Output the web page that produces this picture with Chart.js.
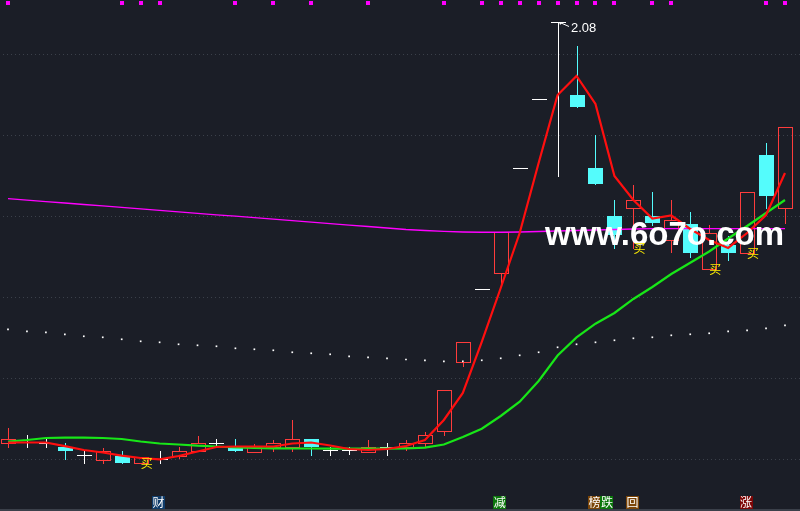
<!DOCTYPE html>
<html>
<head>
<meta charset="utf-8">
<script src="https://cdn.jsdelivr.net/npm/chart.js@4/dist/chart.umd.min.js"></script>
<style>
  html, body { margin: 0; padding: 0; background: #1b1e27; }
  #wrap { width: 800px; height: 511px; }
  canvas { display: block; }
</style>
</head>
<body>
<div id="wrap"><canvas id="kline" width="800" height="511"></canvas></div>
<script>
// Daily bars, oldest first
const opens  = [1.0388, 1.0430, 1.0388, 1.0304, 1.0099, 0.9975, 1.0081, 0.9894, 1.0000, 1.0081,
                1.0198, 1.0395, 1.0284, 1.0180, 1.0304, 1.0304, 1.0494, 1.0210, 1.0210, 1.0180,
                1.0284, 1.0304, 1.0388, 1.0691, 1.2388, 1.4190, 1.4585, 1.7178, 1.8889, 2.0800,
                1.8988, 1.7193, 1.6000, 1.6190, 1.6000, 1.5407, 1.5795, 1.4684, 1.5284, 1.5079,
                1.7506, 1.6190];
const highs  = [1.0758, 1.0593, 1.0506, 1.0400, 1.0222, 1.0264, 1.0198, 1.0042, 1.0205, 1.0296,
                1.0568, 1.0486, 1.0494, 1.0370, 1.0469, 1.0963, 1.0494, 1.0296, 1.0296, 1.0469,
                1.0395, 1.0481, 1.0667, 1.1704, 1.2881, 1.4190, 1.5598, 1.7178, 1.8889, 2.0800,
                2.0198, 1.8000, 1.6395, 1.6765, 1.6593, 1.6383, 1.6099, 1.5778, 1.5494, 1.6585,
                1.7795, 1.8190];
const lows   = [1.0289, 1.0304, 1.0296, 0.9988, 0.9909, 0.9909, 0.9909, 0.9894, 0.9909, 1.0025,
                1.0198, 1.0304, 1.0198, 1.0180, 1.0205, 1.0205, 1.0099, 1.0099, 1.0116, 1.0180,
                1.0099, 1.0222, 1.0304, 1.0593, 1.2304, 1.4190, 1.4338, 1.7178, 1.8889, 1.6995,
                1.8699, 1.6798, 1.5202, 1.5210, 1.5778, 1.5099, 1.4995, 1.4684, 1.4914, 1.5079,
                1.6190, 1.5820];
const closes = [1.0486, 1.0430, 1.0388, 1.0198, 1.0099, 1.0190, 0.9909, 1.0042, 1.0000, 1.0198,
                1.0388, 1.0395, 1.0198, 1.0284, 1.0395, 1.0494, 1.0304, 1.0210, 1.0210, 1.0296,
                1.0284, 1.0388, 1.0593, 1.1704, 1.2881, 1.4190, 1.5598, 1.7178, 1.8889, 2.0800,
                1.8699, 1.6798, 1.5531, 1.6395, 1.5820, 1.5901, 1.5094, 1.5573, 1.5094, 1.6585,
                1.6494, 1.8190];

// Moving averages and indicator values per bar
const maShort = [1.0407, 1.0407, 1.0407, 1.0316, 1.0222, 1.0160, 1.0084, 1.0025, 0.9990, 1.0074,
                 1.0185, 1.0296, 1.0309, 1.0309, 1.0309, 1.0383, 1.0407, 1.0333, 1.0247, 1.0222,
                 1.0247, 1.0321, 1.0469, 1.0963, 1.1630, 1.2889, 1.4222, 1.5580, 1.7309, 1.8988,
                 1.9457, 1.8765, 1.6988, 1.6395, 1.5938, 1.6012, 1.5679, 1.5407, 1.5210, 1.5580,
                 1.6025, 1.7062];
const maMid   = [1.0432, 1.0469, 1.0519, 1.0526, 1.0526, 1.0519, 1.0494, 1.0432, 1.0383, 1.0358,
                 1.0328, 1.0309, 1.0284, 1.0272, 1.0264, 1.0259, 1.0259, 1.0254, 1.0254, 1.0254,
                 1.0254, 1.0259, 1.0279, 1.0358, 1.0543, 1.0748, 1.1062, 1.1415, 1.1926, 1.2556,
                 1.3002, 1.3341, 1.3605, 1.3951, 1.4247, 1.4568, 1.4847, 1.5123, 1.5444, 1.5753,
                 1.6074, 1.6395];
const maLong  = [1.6430, 1.6393, 1.6357, 1.6321, 1.6284, 1.6248, 1.6212, 1.6175, 1.6138, 1.6104,
                 1.6067, 1.6030, 1.5995, 1.5958, 1.5921, 1.5885, 1.5849, 1.5812, 1.5775, 1.5741,
                 1.5704, 1.5667, 1.5642, 1.5622, 1.5605, 1.5598, 1.5598, 1.5605, 1.5617, 1.5630,
                 1.5642, 1.5654, 1.5667, 1.5679, 1.5686, 1.5686, 1.5686, 1.5686, 1.5686, 1.5686,
                 1.5686, 1.5686];
const trendDots = [1.3202, 1.3153, 1.3128, 1.3079, 1.3030, 1.3005, 1.2956, 1.2906, 1.2881, 1.2832,
                   1.2807, 1.2783, 1.2733, 1.2709, 1.2684, 1.2635, 1.2610, 1.2585, 1.2536, 1.2511,
                   1.2486, 1.2457, 1.2437, 1.2412, 1.2412, 1.2437, 1.2486, 1.2560, 1.2635, 1.2758,
                   1.2832, 1.2881, 1.2931, 1.2980, 1.3005, 1.3054, 1.3079, 1.3104, 1.3153, 1.3178,
                   1.3227, 1.3301];

// Signals
const topMarkBars = [0, 6, 7, 8, 12, 14, 16, 19, 23, 25, 26, 27, 28, 29, 30, 31, 32, 34, 35, 40, 41];
const buyBars = [7, 33, 37, 39];
const buyText = '买';
const tagBars  = [8, 26, 31, 31, 33, 39];
const tagTexts = ['财', '减', '榜', '跌', '回', '涨'];
const peakBar = 29;
const gridPrices = [1.0, 1.2, 1.4, 1.6, 1.8, 2.0];
const watermark = 'www.6o7o.com';

// Styles
const UP = '#ff3c3c', DOWN = '#54fcfc', FLAT = '#ffffff';
const tagColors = { '财': '#0f3b69', '减': '#0b760b', '榜': '#7b4508', '跌': '#0b760b', '回': '#7b4508', '涨': '#7d0606' };
const CJK = "'Noto Sans CJK SC', sans-serif";

const pts = arr => arr.map((v, i) => ({ x: i, y: v }));

const klinePlugin = {
  id: 'kline',
  beforeDatasetsDraw(chart) {
    const { ctx, chartArea: a, scales: { x, y } } = chart;
    ctx.save();
    // dotted price grid
    ctx.strokeStyle = '#3b404a';
    ctx.lineWidth = 1;
    ctx.setLineDash([1, 3]);
    gridPrices.forEach(p => {
      const py = Math.round(y.getPixelForValue(p)) + 0.5;
      ctx.beginPath(); ctx.moveTo(a.left + 3, py); ctx.lineTo(a.right, py); ctx.stroke();
    });
    ctx.setLineDash([]);
    // candles
    for (let i = 0; i < opens.length; i++) {
      const cx = Math.round(x.getPixelForValue(i));
      const pO = Math.round(y.getPixelForValue(opens[i]));
      const pC = Math.round(y.getPixelForValue(closes[i]));
      const pH = Math.round(y.getPixelForValue(highs[i]));
      const pL = Math.round(y.getPixelForValue(lows[i]));
      if (closes[i] > opens[i]) {
        ctx.strokeStyle = UP; ctx.fillStyle = UP; ctx.lineWidth = 1;
        ctx.strokeRect(cx - 7 + 0.5, pC + 0.5, 14, pO - pC);
        if (pH < pC) ctx.fillRect(cx, pH, 1, pC - pH);
        if (pL > pO) ctx.fillRect(cx, pO, 1, pL - pO + 1);
      } else if (closes[i] < opens[i]) {
        ctx.fillStyle = DOWN;
        ctx.fillRect(cx - 7, pO, 15, Math.max(1, pC - pO));
        ctx.fillRect(cx, pH, 1, pL - pH + 1);
      } else {
        ctx.fillStyle = FLAT;
        ctx.fillRect(cx - 7, pO, 15, 1);
        if (pL > pH) ctx.fillRect(cx, pH, 1, pL - pH + 1);
      }
    }
    // markers along the top edge
    ctx.fillStyle = '#ff00ff';
    topMarkBars.forEach(i => {
      const cx = Math.round(x.getPixelForValue(i));
      ctx.fillRect(cx - 2, a.top + 1, 4, 4);
    });
    ctx.restore();
  },
  afterDatasetsDraw(chart) {
    const { ctx, chartArea: a, scales: { x, y } } = chart;
    ctx.save();
    // site mark
    ctx.font = "bold 33px 'Liberation Sans', Arial, sans-serif";
    ctx.fillStyle = '#ffffff';
    ctx.textBaseline = 'alphabetic';
    ctx.textAlign = 'left';
    ctx.fillText(watermark, 545, 245);

    // buy signals under the bars
    ctx.font = '12px ' + CJK;
    ctx.fillStyle = '#ffee00';
    ctx.textAlign = 'center';
    ctx.textBaseline = 'middle';
    buyBars.forEach(i => {
      ctx.fillText(buyText, x.getPixelForValue(i) + 6, y.getPixelForValue(lows[i]));
    });

    // peak price label with pointer
    const px = Math.round(x.getPixelForValue(peakBar));
    const py = Math.round(y.getPixelForValue(highs[peakBar]));
    ctx.strokeStyle = '#ffffff'; ctx.fillStyle = '#ffffff'; ctx.lineWidth = 1;
    ctx.beginPath(); ctx.moveTo(px + 2, py + 0.5); ctx.lineTo(px + 11, py + 4.5); ctx.stroke();
    ctx.beginPath(); ctx.moveTo(px + 1, py); ctx.lineTo(px + 5, py); ctx.lineTo(px + 2, py + 3); ctx.closePath(); ctx.fill();
    ctx.font = "13px 'Liberation Sans', Arial, sans-serif";
    ctx.textAlign = 'left';
    ctx.textBaseline = 'alphabetic';
    ctx.fillText(highs[peakBar].toFixed(2), px + 13, py + 10);

    // event tags on the bottom row
    ctx.font = '12px ' + CJK;
    ctx.textAlign = 'center';
    ctx.textBaseline = 'middle';
    const used = {};
    tagBars.forEach((i, k) => {
      const shift = (used[i] || 0) * 12.5;
      used[i] = (used[i] || 0) + 1;
      const cx = x.getPixelForValue(i) - 1 + shift;
      ctx.fillStyle = tagColors[tagTexts[k]];
      ctx.fillRect(Math.round(cx - 6.5), a.bottom - 15, 13, 13);
      ctx.fillStyle = '#ffffff';
      ctx.fillText(tagTexts[k], cx, a.bottom - 8.5);
    });

    // bottom rule
    ctx.fillStyle = '#3b404a';
    ctx.fillRect(a.left, a.bottom - 2, a.right - a.left, 2);
    ctx.restore();
  }
};

new Chart(document.getElementById('kline'), {
  type: 'line',
  data: {
    datasets: [
      { data: pts(maShort), borderColor: '#ff0f0f', borderWidth: 2.2, pointRadius: 0, pointHoverRadius: 0, tension: 0 },
      { data: pts(maMid), borderColor: '#18e618', borderWidth: 2.2, pointRadius: 0, pointHoverRadius: 0, tension: 0 },
      { data: pts(maLong), borderColor: '#ff00ff', borderWidth: 1.3, pointRadius: 0, pointHoverRadius: 0, tension: 0 },
      { data: pts(trendDots), showLine: false, pointStyle: 'rect', pointRadius: 1.2, pointHoverRadius: 0,
        pointBackgroundColor: '#ffffff', pointBorderWidth: 0, borderColor: '#ffffff' }
    ]
  },
  options: {
    responsive: false,
    animation: false,
    events: [],
    layout: { padding: 0, autoPadding: false },
    plugins: { legend: { display: false }, tooltip: { enabled: false } },
    scales: {
      x: { type: 'linear', display: false, min: -0.422, max: 41.792 },
      y: { type: 'linear', display: false, min: 0.8716, max: 2.1333 }
    }
  },
  plugins: [klinePlugin]
});
</script>
</body>
</html>
